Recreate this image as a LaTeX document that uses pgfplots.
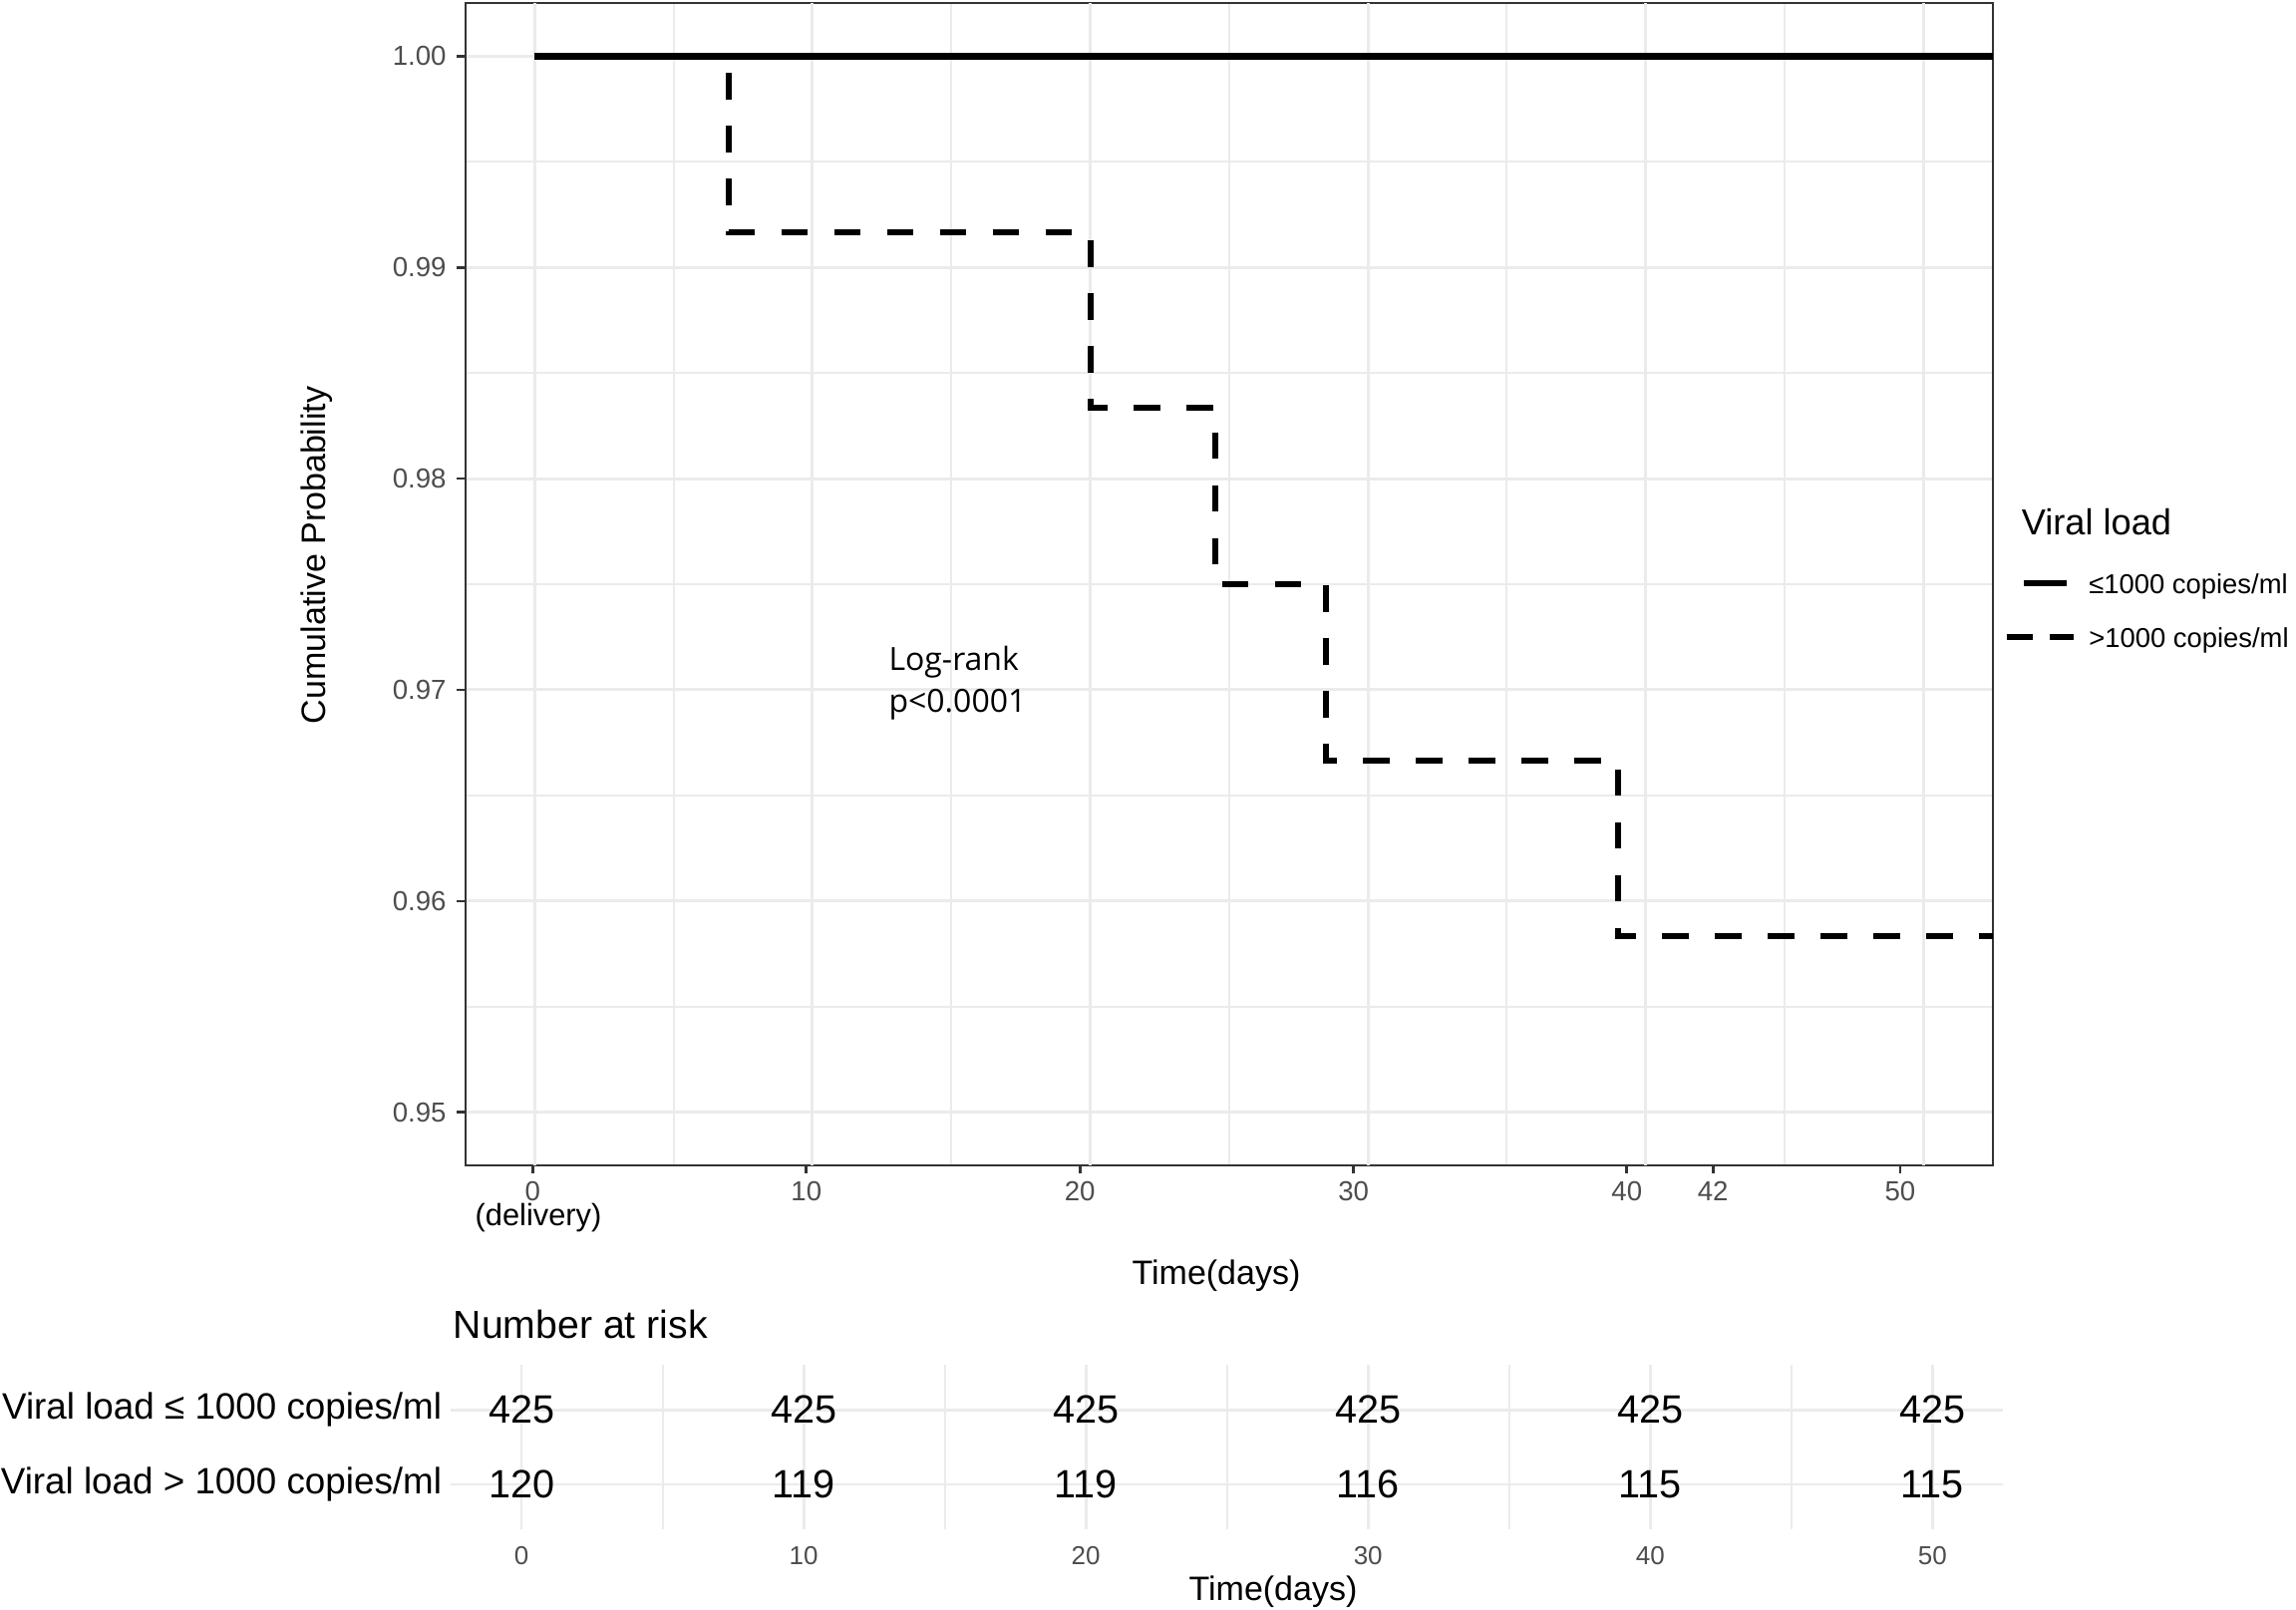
\documentclass[border=0pt]{standalone}
\usepackage{fontspec}
\setmainfont{Liberation Sans}
\newfontfamily\osans{Open Sans}
\usepackage{pgfplots}
\usepackage{pgfplotstable}
\pgfplotsset{compat=1.18}
\definecolor{g92}{HTML}{EBEBEB}
\definecolor{g20}{HTML}{333333}
\definecolor{g30}{HTML}{4D4D4D}
\newcommand\fs[1]{\fontsize{#1pt}{#1pt}\selectfont}

\pgfplotstableread{
x y
0    1
52.5 1
}\lowvl

\pgfplotstableread{
x y
0    1
7    0.991667
20   0.983333
24.5 0.975
28.5 0.966667
39   0.958333
52.5 0.958333
}\highvl

\pgfplotstableread{
x y n
0  2 425
10 2 425
20 2 425
30 2 425
40 2 425
50 2 425
0  1 120
10 1 119
20 1 119
30 1 116
40 1 115
50 1 115
}\risk

\begin{document}
\begin{tikzpicture}
\begin{scope}[x=0.25pt,y=-0.25pt]
\useasboundingbox (0,0) rectangle (2303,1615);
\end{scope}

\begin{axis}[
  at={(116.675pt,-292.175pt)}, anchor=south west,
  width=383.075pt, height=291.35pt, scale only axis,
  xmin=-2.5, xmax=52.5, ymin=0.9475, ymax=1.0025,
  axis line style={draw=g20, line width=0.5pt},
  tick align=outside, tick pos=left,
  major tick length=2.1pt, minor tick length=0pt,
  tick style={draw=g20, line width=0.67pt},
  xtick={-0.07,9.78,19.63,29.48,39.32,42.42,49.16},
  xticklabels={0,10,20,30,40,42,50},
  ytick={0.95,0.96,0.97,0.98,0.99,1.00},
  minor ytick={0.955,0.965,0.975,0.985,0.995},
  minor xtick={5,15,25,35,45},
  xmajorgrids=false, ymajorgrids=true, xminorgrids=true, yminorgrids=true,
  major grid style={draw=g92, line width=0.75pt},
  minor grid style={draw=g92, line width=0.5pt},
  extra x ticks={0,10,20,30,40,50},
  extra x tick style={grid=major, major tick length=0pt, xticklabel={}},
  xticklabel style={font=\fs{6.9}, color=g30, inner sep=0pt, yshift=-1.9pt},
  yticklabel style={font=\fs{6.9}, color=g30, inner sep=0pt, xshift=-2.5pt},
  yticklabel={\pgfmathprintnumber[fixed,fixed zerofill,precision=2,assume math mode=true]{\tick}},
  legend cell align=left,
  legend style={at={(1.00718,0.52402)}, anchor=north west, draw=none, fill=none,
    inner sep=0pt, outer sep=0pt, row sep=0pt, column sep=3.1pt,
    nodes={inner sep=0pt, outer sep=0pt, anchor=west, text height=9.25pt, text depth=4.25pt, font=\fs{6.85}}},
]
\addplot[black, line width=1.65pt,
  legend image code/.code={
    \draw[black, line width=1.65pt, solid] (4.3pt,0pt) -- (15pt,0pt);}]
  table[x=x,y=y] {\lowvl};
\addlegendentry{≤1000 copies/ml}
\addplot[black, line width=1.5pt, dash pattern=on 6.65pt off 6.6pt, const plot,
  legend image code/.code={
    \draw[black, line width=1.5pt, solid] (0pt,0pt) -- (6.5pt,0pt);
    \draw[black, line width=1.5pt, solid] (10.75pt,0pt) -- (16.75pt,0pt);}]
  table[x=x,y=y] {\highvl};
\addlegendentry{>1000 copies/ml}
\end{axis}

\begin{axis}[
  at={(113.075pt,-383.5pt)}, anchor=south west,
  width=389.2pt, height=41.18pt, scale only axis,
  xmin=-2.5, xmax=52.5, ymin=0.4, ymax=2.6,
  axis line style={draw=none},
  major tick length=0pt, minor tick length=0pt,
  tick style={draw=none},
  xtick={0,10,20,30,40,50}, minor xtick={5,15,25,35,45},
  ytick={1,2},
  yticklabels={Viral load > 1000 copies/ml, Viral load ≤ 1000 copies/ml},
  xmajorgrids=true, xminorgrids=true, ymajorgrids=true,
  major grid style={draw=g92, line width=0.7pt},
  minor grid style={draw=g92, line width=0.5pt},
  xticklabel style={font=\fs{6.5}, color=g30, inner sep=0pt, yshift=-4.2pt},
  yticklabel style={font=\fs{9.2}, color=black, inner sep=0pt, xshift=-2.1pt},
  /pgf/number format/assume math mode=true,
  nodes near coords style={anchor=center, inner sep=0pt, font=\fs{9.9}, text=black},
]
\addplot[draw=none, mark=none, nodes near coords, point meta=explicit symbolic]
  table[x=x, y=y, meta=n] {\risk};
\end{axis}

\begin{scope}[x=0.25pt,y=-0.25pt]
\node[rotate=90, font=\fs{8.5}, inner sep=0pt] at (318,557) {Cumulative Probability};
\node[font=\fs{8.5}, inner sep=0pt] at (1220,1280) {Time(days)};
\node[font=\fs{7.7}, inner sep=0pt] at (540,1222) {(delivery)};
\node[anchor=base west, font=\osans\fs{8.0}, inner sep=0pt] at (890.7,672) {Log-rank};
\node[anchor=base west, font=\osans\fs{8.0}, inner sep=0pt] at (890.7,715) {p<0.0001};
\node[anchor=base west, font=\fs{9.05}, inner sep=0pt] at (2027,537) {Viral load};
\node[anchor=base west, font=\fs{9.8}, inner sep=0pt] at (454,1342.7) {Number at risk};
\node[font=\fs{8.5}, inner sep=0pt] at (1277,1597) {Time(days)};
\end{scope}
\end{tikzpicture}
\end{document}
